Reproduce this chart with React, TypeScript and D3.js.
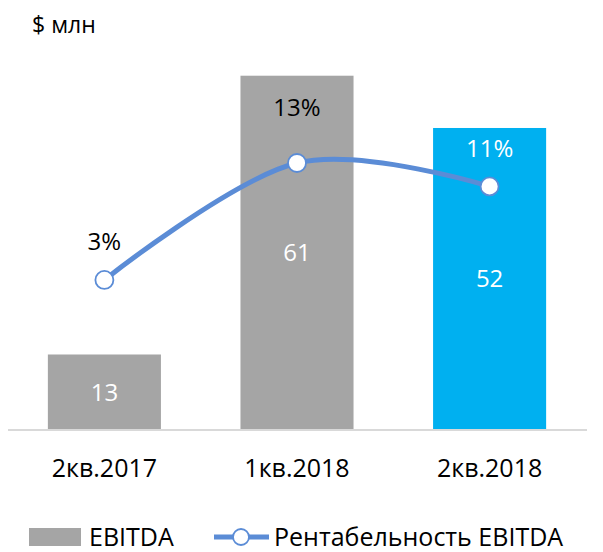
import React from "react";
import * as d3 from "d3";

const categories = ["2кв.2017", "1кв.2018", "2кв.2018"];
const ebitda = [13, 61, 52];
const margin = [3, 13, 11];
const barColors = ["#A5A5A5", "#A5A5A5", "#00B0F0"];
const pctLabelColors = ["#000000", "#000000", "#FFFFFF"];
const pctLabelOffset = [38, 55, 38];
const unitLabel = "$ млн";
const legendBar = "EBITDA";
const legendLine = "Рентабельность EBITDA";

const W = 603;
const H = 552;
const FONT = "'Open Sans', 'Noto Sans', sans-serif";
const LINE_COLOR = "#5B8CD6";

export default function App() {
  const x = d3.scaleBand<string>().domain(categories).range([8, 586]).paddingInner(0.413).paddingOuter(0.207);
  const y = d3.scaleLinear().domain([0, 70]).range([430, 430 - 70 * 5.808]);
  const y2 = d3.scaleLinear().domain([0, 13]).range([315, 163]);
  const cx = (c: string) => (x(c) as number) + x.bandwidth() / 2;

  const pts: [number, number][] = categories.map((c, i) => [cx(c), y2(margin[i])]);
  const linePath = d3.line().curve(d3.curveCatmullRom.alpha(0))(pts) as string;

  return (
    <svg width={W} height={H} style={{ position: "absolute", left: 0, top: 0, display: "block", background: "#fff" }} fontFamily={FONT}>
      <text x={32} y={25} dy="0.35em" fontSize={23} fill="#000">{unitLabel}</text>
      {categories.map((c, i) => (
        <rect key={c} x={x(c)} y={y(ebitda[i])} width={x.bandwidth()} height={y(0) - y(ebitda[i])} fill={barColors[i]} />
      ))}
      <line x1={8} x2={587} y1={430} y2={430} stroke="#D9D9D9" strokeWidth={2} />
      {categories.map((c, i) => (
        <text key={"v" + c} x={cx(c)} y={(y(ebitda[i]) + y(0)) / 2} dy="0.35em" textAnchor="middle" fontSize={24} fill="#FFFFFF">{ebitda[i]}</text>
      ))}
      <path d={linePath} fill="none" stroke={LINE_COLOR} strokeWidth={5} strokeLinecap="round" />
      {pts.map((p, i) => (
        <circle key={"m" + i} cx={p[0]} cy={p[1]} r={9} fill="#fff" stroke={LINE_COLOR} strokeWidth={1.8} />
      ))}
      {categories.map((c, i) => (
        <text key={"p" + c} x={cx(c)} y={y2(margin[i]) - pctLabelOffset[i]} dy="0.35em" textAnchor="middle" fontSize={24} fill={pctLabelColors[i]}>{margin[i] + "%"}</text>
      ))}
      {categories.map((c) => (
        <text key={"c" + c} x={cx(c)} y={468} dy="0.35em" textAnchor="middle" fontSize={25} fill="#000">{c}</text>
      ))}
      <g>
        <rect x={29} y={528} width={52} height={18} fill="#A5A5A5" />
        <text x={89} y={537} dy="0.35em" fontSize={25} fill="#000">{legendBar}</text>
        <line x1={214} x2={269} y1={537} y2={537} stroke={LINE_COLOR} strokeWidth={5} />
        <circle cx={241} cy={537} r={8} fill="#fff" stroke={LINE_COLOR} strokeWidth={1.8} />
        <text x={274} y={537} dy="0.35em" fontSize={25} fill="#000">{legendLine}</text>
      </g>
    </svg>
  );
}
